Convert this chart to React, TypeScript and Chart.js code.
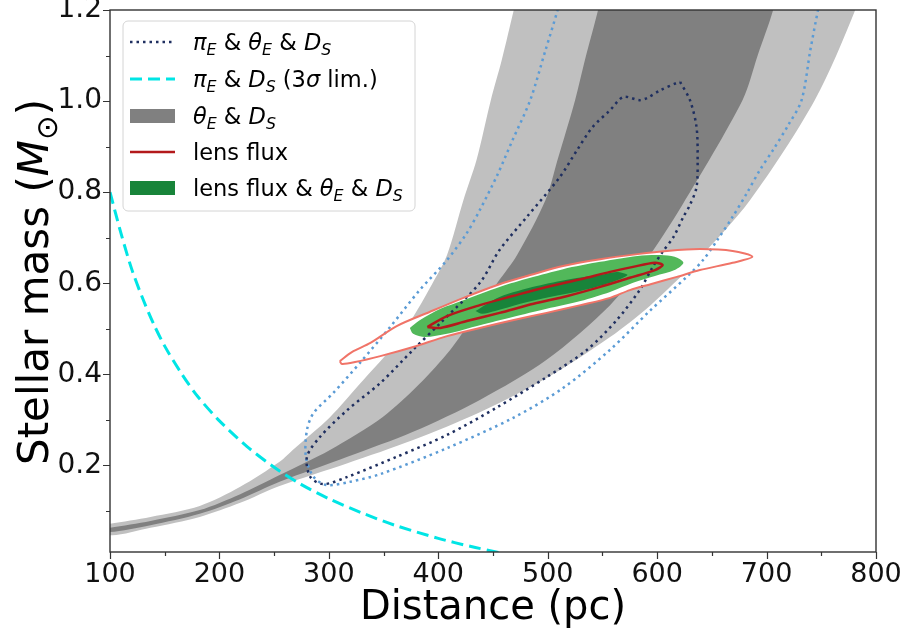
import React, { useEffect, useRef } from 'react';
import { Chart, registerables } from 'chart.js';

Chart.register(...registerables);

// ---------- axis ticks ----------
const xMajorTicks = [100, 200, 300, 400, 500, 600, 700, 800];
const xMinorTicks = [150, 250, 350, 450, 550, 650, 750];
const yMajorTicks = [0.2, 0.4, 0.6, 0.8, 1.0, 1.2];
const yMinorTicks = [0.1, 0.3, 0.5, 0.7, 0.9, 1.1];

// ---------- theta_E & D_S : wide (light) band ----------
const wideUpperD = [100, 137, 182, 219, 255, 267, 301, 329, 356, 377, 395, 408, 423, 435, 448, 458, 469, 475];
const wideUpperM = [0.072, 0.087, 0.111, 0.153, 0.208, 0.234, 0.306, 0.381, 0.454, 0.526, 0.601, 0.662, 0.783, 0.871, 1.002, 1.09, 1.2, 1.26];
const wideLowerD = [100, 137, 182, 219, 255, 317, 377, 438, 499, 557, 594, 635, 685, 744, 781, 787];
const wideLowerM = [0.047, 0.063, 0.087, 0.118, 0.155, 0.205, 0.256, 0.317, 0.392, 0.482, 0.552, 0.647, 0.783, 1.002, 1.2, 1.26];

// ---------- theta_E & D_S : narrow (dark) band ----------
const narrowUpperD = [100, 137, 182, 219, 255, 301, 349, 382, 411, 432, 454, 472, 498, 509, 525, 534, 546, 551];
const narrowUpperM = [0.063, 0.078, 0.102, 0.137, 0.179, 0.234, 0.306, 0.377, 0.454, 0.526, 0.601, 0.662, 0.783, 0.871, 1.002, 1.09, 1.2, 1.26];
const narrowLowerD = [100, 137, 182, 219, 255, 317, 377, 438, 499, 557, 589, 623, 678, 692, 706, 711];
const narrowLowerM = [0.054, 0.069, 0.094, 0.126, 0.164, 0.219, 0.274, 0.344, 0.432, 0.552, 0.647, 0.772, 1.002, 1.101, 1.2, 1.26];

// ---------- pi_E & D_S (3 sigma limit) ----------
const limitD = [100, 110, 120, 130, 140, 150, 165, 180, 200, 225, 250, 275, 300, 330, 360, 400, 430, 455];
const limitM = [0.8, 0.71, 0.63, 0.566, 0.51, 0.462, 0.403, 0.352, 0.298, 0.242, 0.196, 0.158, 0.127, 0.096, 0.069, 0.04, 0.022, 0.009];

// ---------- pi_E & theta_E & D_S contours ----------
const jointInnerD = [621, 630, 636, 637, 636, 630, 624, 615, 605, 596, 584, 563, 536, 499, 454, 408, 362, 317, 295, 283, 280, 292, 317, 347, 377, 402, 438, 456, 481, 511, 527, 541, 557, 569, 584, 591, 603, 618, 621];
const jointInnerM = [1.042, 1.002, 0.943, 0.871, 0.811, 0.772, 0.746, 0.702, 0.669, 0.636, 0.585, 0.519, 0.454, 0.394, 0.328, 0.267, 0.219, 0.175, 0.159, 0.175, 0.219, 0.263, 0.322, 0.381, 0.454, 0.513, 0.601, 0.673, 0.746, 0.833, 0.893, 0.943, 0.98, 1.009, 1.002, 1.007, 1.024, 1.04, 1.042];
const jointOuterD = [513, 509, 498, 484, 468, 454, 438, 426, 408, 383, 356, 329, 304, 286, 280, 279, 286, 298, 319, 347, 408, 468, 514, 557, 594, 627, 642, 655, 669, 682, 694, 706, 720, 732, 740, 747, 751];
const jointOuterM = [1.244, 1.2, 1.112, 1.002, 0.915, 0.838, 0.761, 0.71, 0.651, 0.585, 0.504, 0.427, 0.359, 0.315, 0.278, 0.219, 0.175, 0.157, 0.164, 0.181, 0.238, 0.304, 0.37, 0.454, 0.541, 0.614, 0.651, 0.695, 0.746, 0.798, 0.849, 0.893, 0.948, 1.002, 1.112, 1.2, 1.244];

// ---------- lens flux contours ----------
const fluxOuterD = [310, 321, 338, 362, 392, 423, 456, 484, 514, 548, 582, 609, 639, 669, 687, 669, 639, 618, 594, 575, 557, 530, 499, 468, 438, 408, 377, 347, 324, 312, 310];
const fluxOuterM = [0.429, 0.449, 0.469, 0.506, 0.537, 0.568, 0.598, 0.618, 0.638, 0.653, 0.664, 0.671, 0.675, 0.671, 0.658, 0.645, 0.629, 0.614, 0.598, 0.585, 0.568, 0.552, 0.535, 0.519, 0.502, 0.484, 0.46, 0.44, 0.427, 0.423, 0.429];
const fluxInnerD = [390, 408, 438, 468, 499, 530, 557, 578, 598, 605, 598, 575, 548, 518, 487, 456, 426, 402, 390];
const fluxInnerM = [0.504, 0.528, 0.552, 0.572, 0.592, 0.609, 0.625, 0.636, 0.645, 0.64, 0.629, 0.612, 0.592, 0.572, 0.555, 0.535, 0.517, 0.502, 0.504];

// ---------- lens flux & theta_E & D_S filled regions ----------
const comboOuterD = [374, 383, 402, 423, 456, 484, 514, 548, 582, 603, 616, 624, 616, 598, 578, 557, 530, 499, 468, 438, 408, 388, 377, 374];
const comboOuterM = [0.502, 0.519, 0.544, 0.563, 0.592, 0.612, 0.631, 0.647, 0.66, 0.662, 0.658, 0.645, 0.629, 0.616, 0.601, 0.581, 0.561, 0.544, 0.526, 0.508, 0.489, 0.482, 0.489, 0.502];
const comboInnerD = [434, 456, 490, 520, 548, 563, 573, 557, 530, 502, 475, 452, 440, 434];
const comboInnerM = [0.539, 0.57, 0.594, 0.609, 0.618, 0.625, 0.618, 0.601, 0.583, 0.57, 0.555, 0.539, 0.533, 0.539];

// ---------- styles ----------
const FONT = "'DejaVu Sans', 'Noto Sans', sans-serif";
const C_LIGHT_GRAY = '#c0c0c0';
const C_DARK_GRAY = '#808080';
const C_NAVY = '#1f2f60';
const C_STEEL = '#5b9bd5';
const C_CYAN = '#00e5e5';
const C_DARKRED = '#b3191b';
const C_SALMON = '#f07468';
const C_LIGHT_GREEN = '#52b85a';
const C_DARK_GREEN = '#18843a';

type Part = { t: string; it?: boolean; sub?: boolean };

function pts(xs: number[], ys: number[]) {
  return xs.map((x, i) => ({ x, y: ys[i] }));
}
function band(uD: number[], uM: number[], lD: number[], lM: number[]) {
  const up = pts(uD, uM);
  const lo = pts(lD, lM).reverse();
  return [...up, ...lo, up[0]];
}

function richWidth(ctx: CanvasRenderingContext2D, parts: Part[], size: number) {
  let w = 0;
  for (const p of parts) {
    const s = p.sub ? size * 0.7 : size;
    ctx.font = `${p.it ? 'italic ' : ''}${s}px ${FONT}`;
    w += ctx.measureText(p.t).width;
  }
  return w;
}
function drawRich(ctx: CanvasRenderingContext2D, x: number, y: number, parts: Part[], size: number) {
  let cx = x;
  ctx.textBaseline = 'alphabetic';
  ctx.textAlign = 'left';
  for (const p of parts) {
    const s = p.sub ? size * 0.7 : size;
    ctx.font = `${p.it ? 'italic ' : ''}${s}px ${FONT}`;
    ctx.fillText(p.t, cx, y + (p.sub ? size * 0.22 : 0));
    cx += ctx.measureText(p.t).width;
  }
}

const legendItems: { kind: string; color: string; parts: Part[] }[] = [
  { kind: 'dot', color: C_NAVY, parts: [{ t: 'π', it: true }, { t: 'E', it: true, sub: true }, { t: ' & ' }, { t: 'θ', it: true }, { t: 'E', it: true, sub: true }, { t: ' & ' }, { t: 'D', it: true }, { t: 'S', it: true, sub: true }] },
  { kind: 'dash', color: C_CYAN, parts: [{ t: 'π', it: true }, { t: 'E', it: true, sub: true }, { t: ' & ' }, { t: 'D', it: true }, { t: 'S', it: true, sub: true }, { t: ' (3' }, { t: 'σ', it: true }, { t: ' lim.)' }] },
  { kind: 'patch', color: C_DARK_GRAY, parts: [{ t: 'θ', it: true }, { t: 'E', it: true, sub: true }, { t: ' & ' }, { t: 'D', it: true }, { t: 'S', it: true, sub: true }] },
  { kind: 'line', color: C_DARKRED, parts: [{ t: 'lens flux' }] },
  { kind: 'patch', color: C_DARK_GREEN, parts: [{ t: 'lens flux & ' }, { t: 'θ', it: true }, { t: 'E', it: true, sub: true }, { t: ' & ' }, { t: 'D', it: true }, { t: 'S', it: true, sub: true }] },
];

const decorPlugin = {
  id: 'decor',
  afterDatasetsDraw(chart: any) {
    const ctx: CanvasRenderingContext2D = chart.ctx;
    const { left, right, top, bottom } = chart.chartArea;
    const xs = chart.scales.x;
    const ys = chart.scales.y;
    ctx.save();
    ctx.strokeStyle = '#333333';
    ctx.lineWidth = 1.4;
    ctx.strokeRect(left, top, right - left, bottom - top);
    ctx.lineWidth = 1.2;
    ctx.beginPath();
    for (const v of xMajorTicks) {
      const p = Math.round(xs.getPixelForValue(v)) + 0.5;
      ctx.moveTo(p, bottom); ctx.lineTo(p, bottom + 7);
    }
    for (const v of xMinorTicks) {
      const p = Math.round(xs.getPixelForValue(v)) + 0.5;
      ctx.moveTo(p, bottom); ctx.lineTo(p, bottom + 4);
    }
    for (const v of yMajorTicks) {
      const p = Math.round(ys.getPixelForValue(v)) + 0.5;
      ctx.moveTo(left, p); ctx.lineTo(left - 7, p);
    }
    for (const v of yMinorTicks) {
      const p = Math.round(ys.getPixelForValue(v)) + 0.5;
      ctx.moveTo(left, p); ctx.lineTo(left - 4, p);
    }
    ctx.stroke();
    ctx.restore();
  },
  afterDraw(chart: any) {
    const ctx: CanvasRenderingContext2D = chart.ctx;
    const { left, right, top, bottom } = chart.chartArea;
    ctx.save();
    // legend box
    const bx = 123, by = 21, bw = 292, bh = 190;
    ctx.beginPath();
    ctx.roundRect(bx, by, bw, bh, 5);
    ctx.fillStyle = 'rgba(255,255,255,0.85)';
    ctx.fill();
    ctx.strokeStyle = '#d4d4d4';
    ctx.lineWidth = 1;
    ctx.stroke();
    const rowY = [42, 79, 116, 152, 188];
    const sx0 = 130, sx1 = 175, tx = 193, fs = 22.5;
    legendItems.forEach((it, i) => {
      const y = rowY[i];
      ctx.save();
      if (it.kind === 'patch') {
        ctx.fillStyle = it.color;
        ctx.fillRect(sx0, y - 7, sx1 - sx0, 14);
      } else {
        ctx.strokeStyle = it.color;
        ctx.beginPath();
        if (it.kind === 'dot') { ctx.lineWidth = 2.5; ctx.setLineDash([2.5, 4]); }
        else if (it.kind === 'dash') { ctx.lineWidth = 3; ctx.setLineDash([12, 6]); }
        else { ctx.lineWidth = 2.5; }
        ctx.moveTo(sx0, y); ctx.lineTo(sx1, y);
        ctx.stroke();
      }
      ctx.restore();
      ctx.fillStyle = '#000000';
      drawRich(ctx, tx, y + 8, it.parts, fs);
    });
    // axis titles
    ctx.fillStyle = '#000000';
    ctx.font = `40px ${FONT}`;
    ctx.textAlign = 'center';
    ctx.textBaseline = 'alphabetic';
    ctx.fillText('Distance (pc)', (left + right) / 2, 619);
    const yParts: Part[] = [{ t: 'Stellar mass (' }, { t: 'M', it: true }, { t: '⊙', sub: true }, { t: ')' }];
    const ysz = 42;
    const w = richWidth(ctx, yParts, ysz);
    ctx.translate(48, (top + bottom) / 2 + 1);
    ctx.rotate(-Math.PI / 2);
    drawRich(ctx, -w / 2, 0, yParts, ysz);
    ctx.restore();
  },
};

export default function App() {
  const ref = useRef<HTMLCanvasElement | null>(null);
  useEffect(() => {
    document.body.style.margin = '0';
    const canvas = ref.current;
    if (!canvas) return;
    const base = { showLine: true, pointRadius: 0, pointHoverRadius: 0, tension: 0.3 };
    const chart = new Chart(canvas, {
      type: 'scatter',
      data: {
        datasets: [
          { ...base, label: 'lens flux', data: pts(fluxInnerD, fluxInnerM), borderColor: C_DARKRED, borderWidth: 2.5, fill: false },
          { ...base, label: 'lens flux (outer)', data: pts(fluxOuterD, fluxOuterM), borderColor: C_SALMON, borderWidth: 2, fill: false },
          { ...base, label: 'πE & θE & DS', data: pts(jointInnerD, jointInnerM), borderColor: C_NAVY, borderWidth: 2.5, borderDash: [2.5, 4], fill: false },
          { ...base, label: 'πE & θE & DS (outer)', data: pts(jointOuterD, jointOuterM), borderColor: C_STEEL, borderWidth: 2.5, borderDash: [2.5, 4], fill: false },
          { ...base, label: 'lens flux & θE & DS', data: pts(comboInnerD, comboInnerM), borderWidth: 0, borderColor: 'rgba(0,0,0,0)', backgroundColor: C_DARK_GREEN, fill: 'shape' },
          { ...base, label: 'lens flux & θE & DS (outer)', data: pts(comboOuterD, comboOuterM), borderWidth: 0, borderColor: 'rgba(0,0,0,0)', backgroundColor: C_LIGHT_GREEN, fill: 'shape' },
          { ...base, label: 'lens flux region', data: pts(fluxOuterD, fluxOuterM), borderWidth: 0, borderColor: 'rgba(0,0,0,0)', backgroundColor: '#ffffff', fill: 'shape' },
          { ...base, label: 'πE & DS (3σ lim.)', data: pts(limitD, limitM), borderColor: C_CYAN, borderWidth: 3, borderDash: [12, 6], fill: false },
          { ...base, label: 'θE & DS', data: band(narrowUpperD, narrowUpperM, narrowLowerD, narrowLowerM), borderWidth: 0, borderColor: 'rgba(0,0,0,0)', backgroundColor: C_DARK_GRAY, fill: 'shape' },
          { ...base, label: 'θE & DS (wide)', data: band(wideUpperD, wideUpperM, wideLowerD, wideLowerM), borderWidth: 0, borderColor: 'rgba(0,0,0,0)', backgroundColor: C_LIGHT_GRAY, fill: 'shape' },
        ] as any,
      },
      options: {
        animation: false,
        responsive: false,
        events: [],
        layout: { padding: { left: 0, top: 10, right: 26, bottom: 0 } },
        plugins: { legend: { display: false }, tooltip: { enabled: false } },
        scales: {
          x: {
            type: 'linear',
            min: 100,
            max: 800,
            grid: { display: false, drawTicks: false },
            border: { display: false },
            afterBuildTicks: (s: any) => { s.ticks = xMajorTicks.map((v) => ({ value: v })); },
            afterFit: (s: any) => { s.height = 83; s.paddingLeft = 0; s.paddingRight = 0; },
            ticks: {
              font: { family: FONT, size: 27 },
              color: '#111111',
              padding: 7,
              maxRotation: 0,
              minRotation: 0,
              autoSkip: false,
              callback: (v: any) => String(v),
            },
          },
          y: {
            type: 'linear',
            min: 0.01,
            max: 1.2,
            grid: { display: false, drawTicks: false },
            border: { display: false },
            afterBuildTicks: (s: any) => { s.ticks = yMajorTicks.map((v) => ({ value: v })); },
            afterFit: (s: any) => { s.width = 110; s.paddingTop = 0; s.paddingBottom = 0; },
            ticks: {
              font: { family: FONT, size: 28 },
              color: '#111111',
              padding: 8,
              autoSkip: false,
              callback: (v: any) => Number(v).toFixed(1),
            },
          },
        },
      } as any,
      plugins: [decorPlugin],
    });
    return () => chart.destroy();
  }, []);
  return (
    <div style={{ width: 902, height: 635 }}>
      <canvas ref={ref} width={902} height={635} style={{ display: 'block' }} />
    </div>
  );
}
